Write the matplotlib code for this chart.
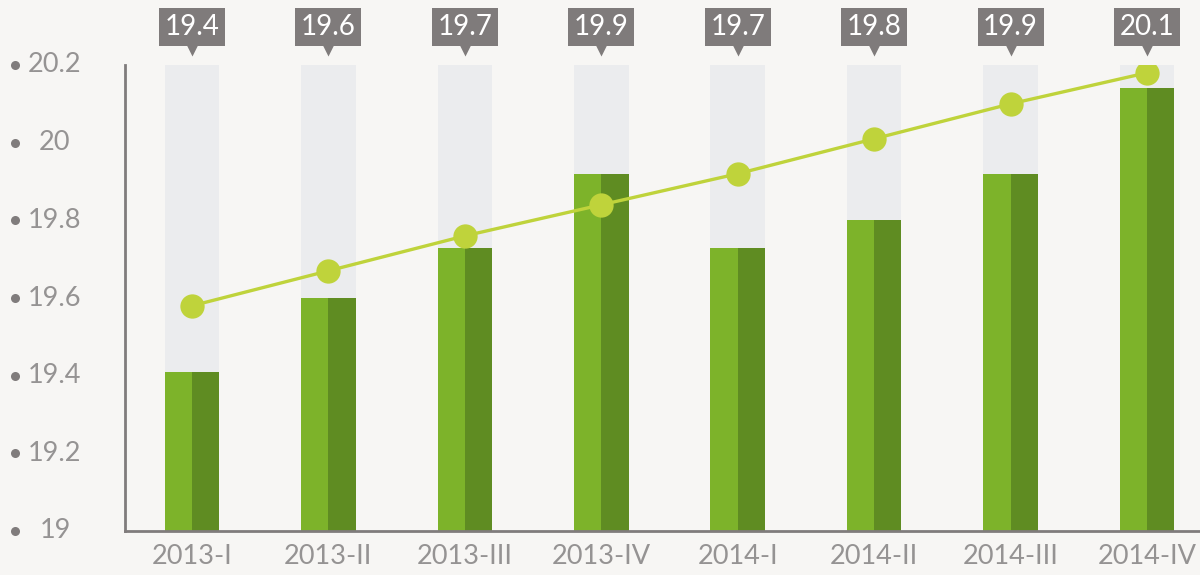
import matplotlib
matplotlib.use("Agg")
import matplotlib.pyplot as plt
from matplotlib.transforms import ScaledTranslation
import numpy as np

categories = ["2013-I", "2013-II", "2013-III", "2013-IV", "2014-I", "2014-II", "2014-III", "2014-IV"]
bar_values = [19.41, 19.60, 19.73, 19.92, 19.73, 19.80, 19.92, 20.14]
line_values = [19.58, 19.67, 19.76, 19.84, 19.92, 20.01, 20.10, 20.18]
box_labels = ["19.4", "19.6", "19.7", "19.9", "19.7", "19.8", "19.9", "20.1"]
yticks = [19, 19.2, 19.4, 19.6, 19.8, 20, 20.2]
ytick_labels = ["19", "19.2", "19.4", "19.6", "19.8", "20", "20.2"]

BG = "#f7f6f4"
FONT = ["Lato", "DejaVu Sans"]
plt.rcParams['font.family'] = FONT
TXT = "#959393"

fig = plt.figure(figsize=(12, 5.75), dpi=100, facecolor=BG)
ax = fig.add_axes([125/1200, 44/575, 1 - 125/1200, 466/575])
ax.set_facecolor(BG)

x = np.arange(len(categories))
ymin, ymax = 19, 20.2
w = 0.40
# grey background bars
ax.bar(x, [ymax - ymin] * len(x), bottom=ymin, width=w, color="#ebecee", zorder=1)
# green split bars
ax.bar(x - w/4, np.array(bar_values) - ymin, bottom=ymin, width=w/2, color="#7db32a", zorder=2)
ax.bar(x + w/4, np.array(bar_values) - ymin, bottom=ymin, width=w/2, color="#5f8c22", zorder=2)
# line
ax.plot(x, line_values, color="#bfd33b", lw=2.4, marker="o", ms=17.5, mec="none", zorder=4)

ax.set_xlim(-0.491, 7.388)
ax.set_ylim(ymin, ymax)

for s in ["top", "right"]:
    ax.spines[s].set_visible(False)
for s in ["left", "bottom"]:
    ax.spines[s].set_color("#807c7c")
    ax.spines[s].set_linewidth(2)

ax.set_xticks(x)
ax.set_xticklabels(categories, fontsize=19.5, color=TXT, fontweight="normal")
ax.tick_params(axis="x", length=0, pad=9)
ax.set_yticks(yticks)
ax.set_yticklabels([])
ax.tick_params(axis="y", length=0)

# y labels with bullets, drawn in axes-blended coords
ytrans = ax.get_yaxis_transform()
for v, lab in zip(yticks, ytick_labels):
    ax.text(-70/1075, v, lab, transform=ytrans, ha="center", va="center",
            fontsize=19.5, color=TXT, fontweight="normal", clip_on=False)
    ax.plot([-110/1075], [v], transform=ytrans, marker="o", ms=6.5, color="#807c7c",
            mec="none", clip_on=False)

# value boxes above bars
box_off = ScaledTranslation(0, 38/100, fig.dpi_scale_trans)
tri_off = ScaledTranslation(0, 15/100, fig.dpi_scale_trans)
for xi, lab in zip(x, box_labels):
    ax.text(xi, ymax, lab, transform=ax.transData + box_off, ha="center", va="center",
            fontsize=20, color="white", fontweight="normal", clip_on=False,
            bbox=dict(boxstyle="square,pad=0.2", fc="#7f7b7b", ec="none"))
    ax.plot([xi], [ymax], transform=ax.transData + tri_off, marker="v", ms=9,
            color="#7f7b7b", mec="none", clip_on=False)

fig.savefig("out.png", dpi=100, facecolor=BG)
